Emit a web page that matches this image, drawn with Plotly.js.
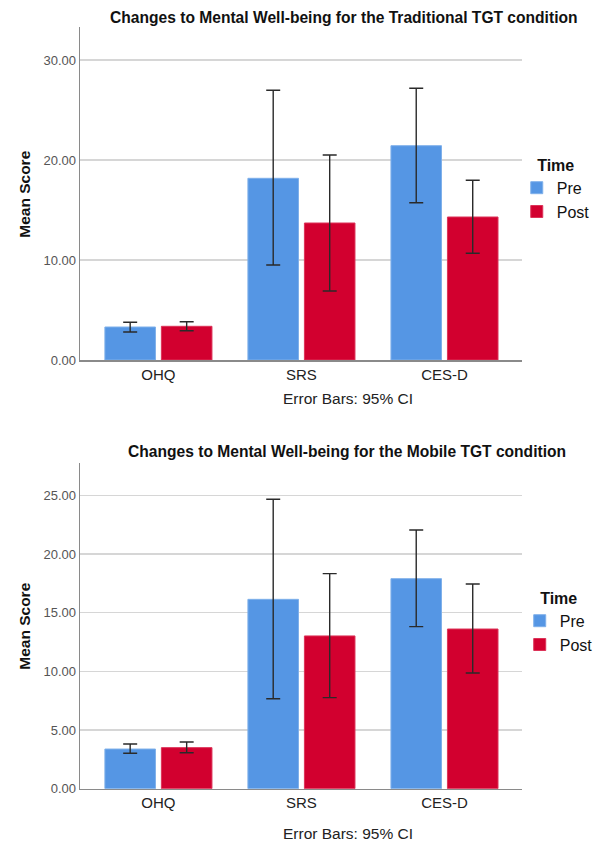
<!DOCTYPE html>
<html>
<head>
<meta charset="utf-8">
<script src="https://cdn.plot.ly/plotly-3.0.1.min.js"></script>
<style>html,body{margin:0;padding:0;background:#fff;}#chart{width:598px;height:841px;}</style>
</head>
<body>
<div id="chart"></div>
<script>
// ---- data ----
var categories = ["OHQ", "SRS", "CES-D"];
var seriesNames = ["Pre", "Post"];
var legendTitle = "Time";

// Traditional TGT condition
var tradPreMean  = [3.30, 18.17, 21.43];
var tradPreLow   = [2.80, 9.50, 15.73];
var tradPreHigh  = [3.77, 26.97, 27.17];
var tradPostMean = [3.37, 13.70, 14.30];
var tradPostLow  = [2.93, 6.90, 10.67];
var tradPostHigh = [3.83, 20.50, 17.97];

// Mobile TGT condition
var mobPreMean  = [3.38, 16.14, 17.90];
var mobPreLow   = [3.02, 7.67, 13.81];
var mobPreHigh  = [3.81, 24.67, 22.05];
var mobPostMean = [3.50, 13.02, 13.61];
var mobPostLow  = [3.07, 7.76, 9.86];
var mobPostHigh = [3.98, 18.33, 17.45];

var tradTickVals = [0, 10, 20, 30];
var tradTickText = ["0.00", "10.00", "20.00", "30.00"];
var mobTickVals = [0, 5, 10, 15, 20, 25];
var mobTickText = ["0.00", "5.00", "10.00", "15.00", "20.00", "25.00"];

var tradTitle = "Changes to Mental Well-being for the Traditional TGT condition";
var mobTitle = "Changes to Mental Well-being for the Mobile TGT condition";
var yTitle = "Mean Score";
var noteText = "Error Bars: 95% CI";

// ---- styling ----
var W = 598, H = 841;
var colors = ["#5596e4", "#d2002f"];
var lineColors = ["#7fb0ea", "#dc3358"];
function px(x) { return x / W; }
function py(y) { return 1 - y / H; }

function diff(a, b) { return a.map(function (v, i) { return v - b[i]; }); }

function makeTrace(name, mean, low, high, idx, xa, ya, legend, show) {
  return {
    type: "bar", name: name, x: categories, y: mean,
    xaxis: xa, yaxis: ya, legend: legend, showlegend: show,
    marker: { color: colors[idx], line: { color: lineColors[idx], width: 1 } },
    error_y: {
      type: "data", symmetric: false,
      array: diff(high, mean), arrayminus: diff(mean, low),
      color: "#2a2a2a", thickness: 1.4, width: 7
    },
    hoverinfo: "skip"
  };
}

var data = [
  makeTrace(seriesNames[0], tradPreMean, tradPreLow, tradPreHigh, 0, "x", "y", "legend", true),
  makeTrace(seriesNames[1], tradPostMean, tradPostLow, tradPostHigh, 1, "x", "y", "legend", true),
  makeTrace(seriesNames[0], mobPreMean, mobPreLow, mobPreHigh, 0, "x2", "y2", "legend2", true),
  makeTrace(seriesNames[1], mobPostMean, mobPostLow, mobPostHigh, 1, "x2", "y2", "legend2", true)
];

var fontFam = "Liberation Sans, Arial, sans-serif";
var xCommon = {
  type: "category", range: [-0.547, 2.54], domain: [px(81), px(527)],
  showline: true, linecolor: "#8a8a8a", linewidth: 1.5, showgrid: false,
  zeroline: false, ticks: "", tickfont: { family: fontFam, size: 15, color: "#222" },
  fixedrange: true
};
function yAxis(domain, range, vals, text, anchor) {
  return {
    domain: domain, range: range, anchor: anchor,
    tickvals: vals, ticktext: text,
    showline: true, linecolor: "#8a8a8a", linewidth: 1.5,
    showgrid: true, gridcolor: "#d6d6d6", gridwidth: 1.2,
    zeroline: false, ticks: "", ticklabelstandoff: 0,
    tickfont: { family: fontFam, size: 13, color: "#555" },
    fixedrange: true
  };
}

var legendCommon = {
  font: { family: fontFam, size: 16, color: "#111" },
  bgcolor: "rgba(0,0,0,0)", tracegroupgap: 0, itemclick: false,
  xanchor: "left", yanchor: "top", traceorder: "normal"
};

var layout = {
  width: W, height: H,
  margin: { l: 0, r: 0, t: 0, b: 0 },
  paper_bgcolor: "#fff", plot_bgcolor: "#fff",
  barmode: "group", bargap: 0.21, bargroupgap: 0.105,
  font: { family: fontFam },
  xaxis: Object.assign({}, xCommon, { anchor: "y" }),
  xaxis2: Object.assign({}, xCommon, { anchor: "y2" }),
  yaxis: yAxis([py(360), py(27)], [0, 33.3], tradTickVals, tradTickText, "x"),
  yaxis2: yAxis([py(788.7), py(463)], [0, 27.76], mobTickVals, mobTickText, "x2"),
  legend: Object.assign({}, legendCommon, {
    x: px(522), y: py(150),
    title: { text: "<b>" + legendTitle + "</b>", side: "top center", font: { family: fontFam, size: 16, color: "#111" } }
  }),
  legend2: Object.assign({}, legendCommon, {
    x: px(525), y: py(583),
    title: { text: "<b>" + legendTitle + "</b>", side: "top center", font: { family: fontFam, size: 16, color: "#111" } }
  }),
  annotations: [
    { text: "<b>" + tradTitle + "</b>", xref: "paper", yref: "paper", x: px(347.5), y: py(17), xanchor: "center", yanchor: "middle", showarrow: false, font: { family: fontFam, size: 15.6, color: "#111" } },
    { text: "<b>" + mobTitle + "</b>", xref: "paper", yref: "paper", x: px(351), y: py(452), xanchor: "center", yanchor: "middle", showarrow: false, font: { family: fontFam, size: 15.6, color: "#111" } },
    { text: "<b>" + yTitle + "</b>", xref: "paper", yref: "paper", x: px(24), y: py(194), textangle: -90, xanchor: "center", yanchor: "middle", showarrow: false, font: { family: fontFam, size: 15.5, color: "#111" } },
    { text: "<b>" + yTitle + "</b>", xref: "paper", yref: "paper", x: px(24), y: py(626), textangle: -90, xanchor: "center", yanchor: "middle", showarrow: false, font: { family: fontFam, size: 15.5, color: "#111" } },
    { text: noteText, xref: "paper", yref: "paper", x: px(352), y: py(398), xanchor: "center", yanchor: "middle", showarrow: false, font: { family: fontFam, size: 15.5, color: "#222" } },
    { text: noteText, xref: "paper", yref: "paper", x: px(352), y: py(833), xanchor: "center", yanchor: "middle", showarrow: false, font: { family: fontFam, size: 15.5, color: "#222" } }
  ]
};

Plotly.newPlot("chart", data, layout, { displayModeBar: false, staticPlot: true });
</script>
</body>
</html>
